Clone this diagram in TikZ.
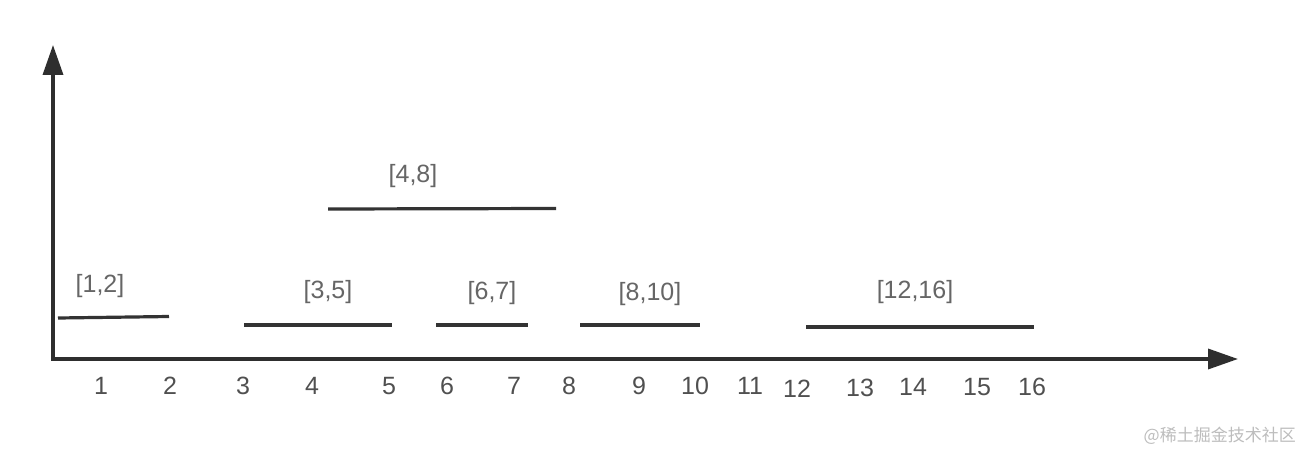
\documentclass[tikz,border=0pt]{standalone}
\usepackage{fontspec}
\setmainfont{Liberation Sans}
\newfontfamily\cjkfont{Noto Sans CJK SC}
\usetikzlibrary{arrows.meta}
\definecolor{axiscol}{HTML}{2E2E2E}
\definecolor{segcol}{HTML}{333333}
\definecolor{lblcol}{HTML}{666666}
\definecolor{numcol}{HTML}{505050}
\definecolor{wmcol}{HTML}{BDBDBD}
\begin{document}
\begin{tikzpicture}[x=1pt,y=-1pt,
  axis/.style={line width=3.5pt, draw=axiscol, -{Triangle[length=30pt,width=20pt]}},
  seg/.style={line width=3.2pt, draw=segcol},
  lbl/.style={font=\fontsize{25}{25}\selectfont, text=lblcol, inner sep=0pt, anchor=center},
  num/.style={font=\fontsize{25}{25}\selectfont, text=numcol, inner sep=0pt, anchor=center},
  wm/.style={font=\cjkfont\fontsize{17}{17}\selectfont, text=wmcol, inner sep=0pt, anchor=east}]
\useasboundingbox (0,0) rectangle (1304,452);
\fill[white] (0,0) rectangle (1304,452);
% axes
\coordinate (O) at (53,359);
\coordinate (Ox) at (51,359);
\coordinate (Ytop) at (53,45);
\coordinate (Xend) at (1238,359);
\draw[axis] (O) -- (Ytop);
\draw[axis] (Ox) -- (Xend);
% segments
\coordinate (s1a) at (58,318); \coordinate (s1b) at (169,316.5);
\coordinate (s2a) at (244,325); \coordinate (s2b) at (392,325);
\coordinate (s3a) at (436,325); \coordinate (s3b) at (528,325);
\coordinate (s4a) at (580,325); \coordinate (s4b) at (700,325);
\coordinate (s5a) at (806,327); \coordinate (s5b) at (1034,327);
\coordinate (s6a) at (328,209); \coordinate (s6b) at (556,208.5);
\draw[seg] (s1a) -- (s1b);
\draw[seg] (s2a) -- (s2b);
\draw[seg] (s3a) -- (s3b);
\draw[seg] (s4a) -- (s4b);
\draw[seg] (s5a) -- (s5b);
\draw[seg] (s6a) -- (s6b);
% labels
\node[lbl] (l1) at (100,286) {[1,2]};
\node[lbl] (l2) at (328,292) {[3,5]};
\node[lbl] (l3) at (492,293) {[6,7]};
\node[lbl] (l4) at (650,294) {[8,10]};
\node[lbl] (l5) at (915,292) {[12,16]};
\node[lbl] (l6) at (413,176) {[4,8]};
% axis numbers
\node[num] (n1) at (101,386) {1};
\node[num] (n2) at (170,386) {2};
\node[num] (n3) at (243,386) {3};
\node[num] (n4) at (312,386) {4};
\node[num] (n5) at (389,386) {5};
\node[num] (n6) at (447,386) {6};
\node[num] (n7) at (514,386) {7};
\node[num] (n8) at (569,386) {8};
\node[num] (n9) at (639,386) {9};
\node[num] (n10) at (695,386) {10};
\node[num] (n11) at (750,386) {11};
\node[num] (n12) at (797,389) {12};
\node[num] (n13) at (860,388) {13};
\node[num] (n14) at (913,387) {14};
\node[num] (n15) at (977,387) {15};
\node[num] (n16) at (1032,387) {16};
% watermark
\node[wm] (wm) at (1296,436) {@稀土掘金技术社区};
\end{tikzpicture}
\end{document}
